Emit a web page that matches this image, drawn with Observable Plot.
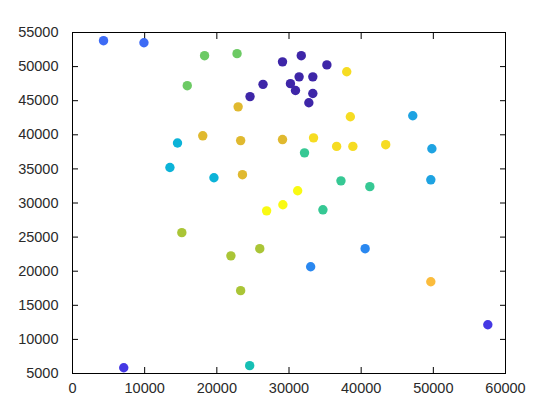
<!DOCTYPE html>
<html>
<head>
<meta charset="utf-8">
<script src="https://cdn.jsdelivr.net/npm/d3@7"></script>
<script src="https://cdn.jsdelivr.net/npm/@observablehq/plot@0.6"></script>
<style>
  html, body { margin: 0; padding: 0; background: #fff; }
  #chart svg { display: block; }
</style>
</head>
<body>
<div id="chart"></div>
<script>
// Data
const xs = [4300, 9900, 18300, 22800, 15900, 29100, 31700, 31400, 26400, 30200, 30900, 24600,
  22950, 18050, 23300, 29100, 14550, 13500, 19600, 23550, 31200,
  33300, 35250, 33300, 32750, 38000, 38500, 33400, 36600, 38850, 43400,
  47150, 49800, 32150, 37200, 41200, 49650,
  26900, 29150, 15150, 21950, 25950, 23300, 7100, 24550,
  34700, 40550, 33000, 49650, 57550];
const ys = [53800, 53500, 51600, 51900, 47200, 50700, 51600, 48500, 47400, 47500, 46500, 45600,
  44100, 39850, 39150, 39300, 38800, 35200, 33700, 34150, 31800,
  48500, 50250, 46050, 44700, 49250, 42650, 39550, 38300, 38300, 38550,
  42800, 37950, 37350, 33250, 32400, 33400,
  28850, 29750, 25650, 22250, 23300, 17150, 5850, 6150,
  29000, 23300, 20650, 18450, 12150];
const groups = ["g2", "g2", "g9", "g9", "g9", "g0", "g0", "g0", "g0", "g0", "g0", "g0",
  "g11", "g11", "g11", "g11", "g5", "g5", "g5", "g11", "g14",
  "g0", "g0", "g0", "g0", "g13", "g13", "g13", "g13", "g13", "g13",
  "g4", "g4", "g8", "g8", "g8", "g4",
  "g14", "g14", "g10", "g10", "g10", "g10", "g1", "g6",
  "g8", "g3", "g3", "g12", "g1"];
const groupNames = ["g0", "g1", "g2", "g3", "g4", "g5", "g6", "g8", "g9", "g10", "g11", "g12", "g13", "g14"];
const groupColors = ["#3e26a8", "#4538e4", "#3d6bf5", "#2a88f0", "#1ea3e2", "#0cb3d8", "#16bfb4",
  "#36c894", "#6cca64", "#aac536", "#e0b92f", "#fbbc3c", "#f6dc22", "#f9fa12"];
const xTicks = [0, 10000, 20000, 30000, 40000, 50000, 60000];
const yTicks = [5000, 10000, 15000, 20000, 25000, 30000, 35000, 40000, 45000, 50000, 55000];

const points = xs.map((x, i) => ({x, y: ys[i], g: groups[i]}));

const chart = Plot.plot({
  width: 560,
  height: 420,
  marginLeft: 72,
  marginRight: 55,
  marginTop: 32,
  marginBottom: 47,
  style: {fontFamily: "'Liberation Sans', Arial, sans-serif", fontSize: "14.5px", color: "#222", background: "#fff"},
  x: {domain: [0, 60000]},
  y: {domain: [5000, 55000]},
  color: {domain: groupNames, range: groupColors},
  marks: [
    Plot.axisX(xTicks, {anchor: "bottom", tickSize: 0, tickPadding: 9, tickFormat: d => String(d), label: null, fill: "#2a2a2a"}),
    Plot.axisY(yTicks, {anchor: "left", tickSize: 0, tickPadding: 14, tickFormat: d => String(d), label: null, fill: "#2a2a2a"}),
    Plot.axisX(xTicks, {anchor: "bottom", tickSize: -6, text: null, label: null, stroke: "#000"}),
    Plot.axisX(xTicks, {anchor: "top", tickSize: -6, text: null, label: null, stroke: "#000"}),
    Plot.axisY(yTicks, {anchor: "left", tickSize: -6, text: null, label: null, stroke: "#000"}),
    Plot.axisY(yTicks, {anchor: "right", tickSize: -6, text: null, label: null, stroke: "#000"}),
    Plot.frame({stroke: "#000", strokeWidth: 1}),
    Plot.dot(points, {x: "x", y: "y", fill: "g", r: 4.7})
  ]
});
document.getElementById("chart").appendChild(chart);
</script>
</body>
</html>
